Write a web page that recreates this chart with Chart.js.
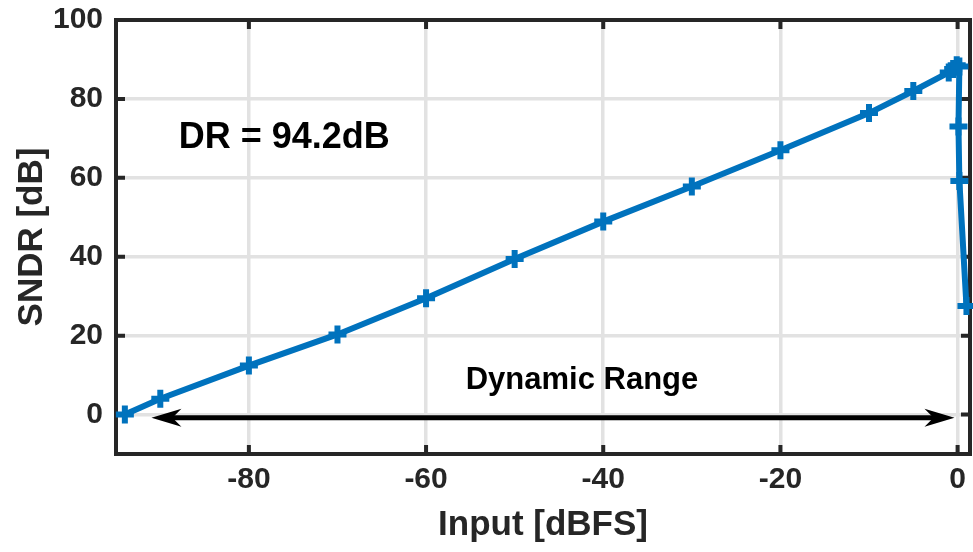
<!DOCTYPE html>
<html>
<head>
<meta charset="utf-8">
<script src="https://cdn.jsdelivr.net/npm/chart.js@4/dist/chart.umd.min.js"></script>
<style>
  html, body { margin: 0; padding: 0; background: #fff; overflow: hidden; }
  canvas { display: block; }
</style>
</head>
<body>
<canvas id="c" width="973" height="552"></canvas>
<script>
// measured SNDR sweep
const inputDbfs = [-94, -90, -80, -70, -60, -50, -40, -30, -20, -10, -5, -1, -0.5, -0.1, 0.2, 0.1, 0.2, 1.0];
const sndrDb    = [0, 4, 12.4, 20.3, 29.5, 39.4, 48.9, 57.8, 67, 76.4, 82, 86.7, 87.6, 88.5, 88.2, 73, 59.2, 27.5];

const xTicks = [-80, -60, -40, -20, 0];
const yTicks = [0, 20, 40, 60, 80, 100];

const drLabel = 'DR = 94.2dB';
const rangeLabel = 'Dynamic Range';
const arrowFrom = -91;
const arrowTo = -0.35;

const FONT = '"Liberation Sans", Arial, sans-serif';
const INK = '#262626';
const BLUE = '#0072BD';

// box, inward ticks, arrow and labels (MATLAB style)
const decorations = {
  id: 'decorations',
  beforeDatasetsDraw(chart) {
    const { ctx, chartArea: a, scales: { x, y } } = chart;
    ctx.save();
    ctx.strokeStyle = INK;
    ctx.lineWidth = 4;
    xTicks.forEach(v => {
      const px = x.getPixelForValue(v);
      ctx.beginPath();
      ctx.moveTo(px, a.bottom); ctx.lineTo(px, a.bottom - 9);
      ctx.moveTo(px, a.top); ctx.lineTo(px, a.top + 9);
      ctx.stroke();
    });
    yTicks.forEach(v => {
      const py = y.getPixelForValue(v);
      ctx.beginPath();
      ctx.moveTo(a.left, py); ctx.lineTo(a.left + 9, py);
      ctx.moveTo(a.right, py); ctx.lineTo(a.right - 9, py);
      ctx.stroke();
    });
    ctx.strokeRect(a.left, a.top, a.right - a.left, a.bottom - a.top);
    ctx.restore();
  },
  afterDatasetsDraw(chart) {
    const { ctx, scales: { x, y } } = chart;
    ctx.save();
    // double arrow
    const ay = y.getPixelForValue(-0.8);
    const x1 = x.getPixelForValue(arrowFrom);
    const x2 = x.getPixelForValue(arrowTo);
    const L = 30, W = 9;
    ctx.strokeStyle = '#000';
    ctx.fillStyle = '#000';
    ctx.lineWidth = 5;
    ctx.beginPath();
    ctx.moveTo(x1 + L * 0.6, ay);
    ctx.lineTo(x2 - L * 0.6, ay);
    ctx.stroke();
    const head = (tip, dir) => {
      ctx.beginPath();
      ctx.moveTo(tip, ay);
      ctx.lineTo(tip + dir * L, ay - W);
      ctx.lineTo(tip + dir * L * 0.7, ay);
      ctx.lineTo(tip + dir * L, ay + W);
      ctx.closePath();
      ctx.fill();
    };
    head(x1, 1);
    head(x2, -1);

    ctx.textAlign = 'center';
    ctx.textBaseline = 'middle';
    ctx.font = 'bold 36px ' + FONT;
    ctx.fillText(drLabel, x.getPixelForValue(-76), y.getPixelForValue(70.1));
    ctx.font = 'bold 31px ' + FONT;
    ctx.fillText(rangeLabel, x.getPixelForValue(-42.4), y.getPixelForValue(8.7));
    ctx.restore();
  }
};

const points = inputDbfs.map((v, i) => ({ x: v, y: sndrDb[i] }));

new Chart(document.getElementById('c'), {
  type: 'line',
  data: {
    datasets: [{
      data: points,
      borderColor: BLUE,
      backgroundColor: BLUE,
      borderWidth: 6,
      pointStyle: 'cross',
      pointRadius: 9,
      pointBorderWidth: 6,
      pointBorderColor: BLUE,
      tension: 0,
      clip: false
    }]
  },
  options: {
    responsive: false,
    animation: false,
    events: [],
    layout: { autoPadding: false, padding: { top: 20, right: 3, left: 0, bottom: 0 } },
    plugins: {
      legend: { display: false },
      tooltip: { enabled: false }
    },
    scales: {
      x: {
        type: 'linear',
        min: -95,
        max: 1.4,
        afterBuildTicks: s => { s.ticks = xTicks.map(v => ({ value: v })); },
        afterFit: s => { s.height = 98; s.paddingLeft = 0; s.paddingRight = 0; },
        border: { display: false },
        grid: { color: '#e2e2e2', lineWidth: 3.5, tickLength: 0, drawTicks: false },
        ticks: {
          autoSkip: false,
          maxRotation: 0,
          color: INK,
          padding: 8,
          font: { family: FONT, size: 30, weight: 'bold' }
        },
        title: {
          display: true,
          text: 'Input [dBFS]',
          color: INK,
          padding: { top: 0, bottom: 6 },
          font: { family: FONT, size: 35, weight: 'bold' }
        }
      },
      y: {
        min: -10,
        max: 100,
        afterBuildTicks: s => { s.ticks = yTicks.map(v => ({ value: v })); },
        afterFit: s => { s.width = 116; s.paddingTop = 0; s.paddingBottom = 0; },
        border: { display: false },
        grid: { color: '#e2e2e2', lineWidth: 3.5, tickLength: 0, drawTicks: false },
        ticks: {
          autoSkip: false,
          color: INK,
          padding: 13,
          font: { family: FONT, size: 30, weight: 'bold' }
        },
        title: {
          display: true,
          text: 'SNDR [dB]',
          color: INK,
          padding: { top: 11, bottom: 0 },
          font: { family: FONT, size: 35, weight: 'bold' }
        }
      }
    }
  },
  plugins: [decorations]
});
</script>
</body>
</html>
